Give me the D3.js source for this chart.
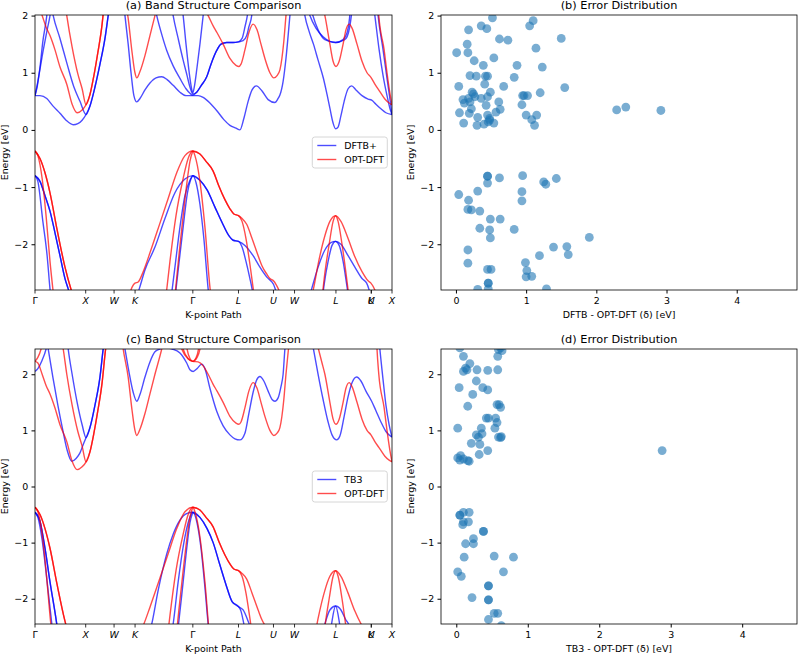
<!DOCTYPE html>
<html>
<head>
<meta charset="utf-8">
<script src="https://cdn.jsdelivr.net/npm/d3@7"></script>
<style>
body { margin: 0; background: #fff; }
svg { font-family: "DejaVu Sans", sans-serif; }
</style>
</head>
<body>
<svg id="fig" width="799" height="655"></svg>
<script>
// k-path (fraction of total path length) and labels
const kTicks = [0, 0.142, 0.2215, 0.2803, 0.4421, 0.570, 0.668, 0.727, 0.843, 0.942, 0.942, 1.0];
const kLabels = ["Γ", "X", "W", "K", "Γ", "L", "U", "W", "L", "K", "U", "X"];
const energyTicks = [-2, -1, 0, 1, 2];
const errTicks = [0, 1, 2, 3, 4];

// OPT-DFT reference bands, [k, E (eV)]; degenerate branches are listed twice
const optValence = [
  [[0,-0.37],[0.014,-0.5],[0.028,-0.75],[0.042,-1.1],[0.062,-1.75],[0.084,-2.4],[0.104,-2.85],[0.126,-3.2]],
  [[0,-0.37],[0.014,-0.5],[0.028,-0.75],[0.042,-1.1],[0.062,-1.75],[0.084,-2.4],[0.104,-2.85],[0.126,-3.2]],
  [[0,-0.37],[0.008,-0.45],[0.020,-0.85],[0.031,-1.5],[0.042,-2.3],[0.053,-2.95]],
  [[0.252,-3.1],[0.261,-2.95],[0.272,-2.75],[0.280,-2.68],[0.289,-2.66],[0.303,-2.48],[0.322,-2.15],[0.350,-1.63],[0.373,-1.2],[0.397,-0.75],[0.420,-0.45],[0.442,-0.37],[0.462,-0.42],[0.479,-0.55],[0.499,-0.72],[0.515,-0.98],[0.532,-1.22],[0.546,-1.38],[0.557,-1.47],[0.570,-1.5],[0.580,-1.55],[0.593,-1.65],[0.608,-1.9],[0.625,-2.2],[0.636,-2.38],[0.649,-2.52],[0.658,-2.6],[0.668,-2.64],[0.675,-2.7],[0.683,-2.8],[0.697,-3.05]],
  [[0.442,-0.37],[0.462,-0.42],[0.479,-0.55],[0.499,-0.72],[0.515,-0.98],[0.532,-1.22],[0.546,-1.38],[0.557,-1.47],[0.570,-1.5],[0.580,-1.6],[0.591,-1.9],[0.602,-2.35],[0.613,-2.85],[0.622,-3.2]],
  [[0.367,-2.9],[0.378,-2.3],[0.395,-1.5],[0.415,-0.85],[0.429,-0.5],[0.442,-0.37],[0.448,-0.45],[0.462,-0.9],[0.476,-1.7],[0.490,-2.75],[0.499,-3.2]],
  [[0.392,-2.9],[0.403,-2.2],[0.415,-1.5],[0.426,-0.9],[0.434,-0.55],[0.442,-0.37]],
  [[0.765,-3.1],[0.780,-2.78],[0.793,-2.35],[0.812,-1.85],[0.826,-1.6],[0.842,-1.5],[0.857,-1.6],[0.877,-1.9],[0.896,-2.22],[0.916,-2.48],[0.933,-2.64],[0.941,-2.68],[0.952,-2.8],[0.966,-3.1]],
  [[0.804,-2.95],[0.812,-2.5],[0.824,-2.0],[0.835,-1.6],[0.842,-1.5],[0.849,-1.6],[0.860,-2.0],[0.871,-2.5],[0.880,-2.95]]
];
const optConduction = [
  [[0,2.23],[0.008,2.2],[0.020,2.0],[0.031,1.8],[0.042,1.65],[0.056,1.4],[0.070,1.1],[0.089,0.8],[0.104,0.45],[0.118,0.3],[0.132,0.35],[0.143,0.44],[0.154,0.62],[0.165,0.95],[0.176,1.35],[0.188,1.85],[0.196,2.35],[0.204,2.8]],
  [[0.064,2.9],[0.079,2.45],[0.089,2.0],[0.104,1.45],[0.120,0.98],[0.132,0.72],[0.143,0.44],[0.154,0.62],[0.165,0.95],[0.176,1.35],[0.188,1.85],[0.196,2.35],[0.204,2.8]],
  [[0,2.23],[0.008,2.3],[0.017,2.45],[0.025,2.7],[0.034,3.0]],
  [[0.238,2.9],[0.247,2.45],[0.261,1.95],[0.272,1.35],[0.280,1.0],[0.285,0.91],[0.294,1.02],[0.308,1.3],[0.322,1.65],[0.336,2.0],[0.355,2.45],[0.364,2.7],[0.378,3.0]],
  [[0.392,2.9],[0.411,2.45],[0.429,2.27],[0.442,2.23],[0.457,2.22],[0.471,2.15],[0.485,2.0],[0.499,1.82],[0.510,1.7],[0.527,1.5],[0.546,1.25],[0.563,1.13],[0.571,1.11],[0.577,1.15],[0.588,1.4],[0.599,1.7],[0.611,1.85],[0.622,1.75],[0.633,1.5],[0.644,1.25],[0.658,1.0],[0.669,0.91],[0.678,0.95],[0.686,1.05],[0.697,1.55],[0.703,2.0],[0.710,2.45],[0.717,2.9]],
  [[0.417,2.9],[0.426,2.45],[0.434,2.28],[0.442,2.23],[0.450,2.28],[0.458,2.45],[0.465,2.9]],
  [[0.401,2.9],[0.415,2.45],[0.429,2.28],[0.442,2.23],[0.454,2.3],[0.462,2.45],[0.471,2.9]],
  [[0.776,2.9],[0.794,2.45],[0.804,2.2],[0.812,2.0],[0.826,1.5],[0.835,1.2],[0.843,1.11],[0.852,1.2],[0.863,1.5],[0.871,1.75],[0.880,1.85],[0.888,1.78],[0.902,1.5],[0.916,1.2],[0.930,1.0],[0.941,0.92],[0.952,0.8],[0.966,0.67],[0.980,0.54],[0.992,0.47],[1.0,0.44]],
  [[0.955,2.9],[0.958,2.45],[0.963,2.0],[0.978,1.4],[0.986,1.0],[0.994,0.65],[1.0,0.44]]
];

// DFTB+ bands
const dftbValence = [
  [[0,-0.8],[0.014,-0.9],[0.028,-1.15],[0.042,-1.42],[0.056,-1.8],[0.070,-2.2],[0.084,-2.6],[0.093,-2.78],[0.104,-3.0]],
  [[0,-0.8],[0.014,-0.9],[0.028,-1.15],[0.042,-1.42],[0.056,-1.8],[0.070,-2.2],[0.084,-2.6],[0.093,-2.78],[0.104,-3.0]],
  [[0,-0.8],[0.008,-0.9],[0.022,-1.6],[0.034,-2.2],[0.042,-2.78],[0.050,-3.2]],
  [[0.275,-3.1],[0.283,-2.95],[0.292,-2.78],[0.308,-2.45],[0.336,-2.05],[0.364,-1.55],[0.392,-1.1],[0.420,-0.86],[0.442,-0.8],[0.462,-0.88],[0.482,-1.05],[0.504,-1.35],[0.524,-1.62],[0.543,-1.85],[0.555,-1.93],[0.570,-1.95],[0.588,-2.02],[0.611,-2.2],[0.630,-2.4],[0.650,-2.58],[0.668,-2.7],[0.675,-2.82],[0.686,-3.0]],
  [[0.442,-0.8],[0.462,-0.88],[0.482,-1.05],[0.504,-1.35],[0.524,-1.62],[0.543,-1.85],[0.555,-1.93],[0.570,-1.95],[0.580,-2.05],[0.591,-2.3],[0.602,-2.6],[0.608,-2.78],[0.616,-3.1]],
  [[0.392,-2.95],[0.402,-2.4],[0.415,-1.7],[0.427,-1.1],[0.436,-0.87],[0.442,-0.8],[0.451,-0.92],[0.462,-1.3],[0.473,-1.9],[0.485,-2.78],[0.493,-3.2]],
  [[0.381,-2.95],[0.392,-2.4],[0.406,-1.7],[0.420,-1.15],[0.434,-0.88],[0.442,-0.8]],
  [[0.765,-3.0],[0.775,-2.78],[0.793,-2.4],[0.812,-2.1],[0.829,-1.97],[0.842,-1.95],[0.857,-2.0],[0.877,-2.2],[0.896,-2.4],[0.916,-2.6],[0.929,-2.68],[0.936,-2.8],[0.944,-3.0]],
  [[0.804,-3.0],[0.810,-2.7],[0.821,-2.3],[0.832,-2.02],[0.842,-1.95],[0.852,-2.02],[0.863,-2.3],[0.873,-2.7],[0.880,-3.0]]
];
const dftbConduction = [
  [[0,0.6],[0.014,0.6],[0.033,0.55],[0.050,0.42],[0.070,0.29],[0.087,0.17],[0.107,0.09],[0.120,0.11],[0.132,0.17],[0.143,0.27],[0.154,0.42],[0.168,0.75],[0.182,1.15],[0.196,1.6],[0.205,2.0],[0.216,2.5],[0.224,2.9]],
  [[0.042,2.3],[0.051,2.0],[0.070,1.6],[0.090,1.15],[0.109,0.75],[0.126,0.5],[0.143,0.27],[0.154,0.42],[0.168,0.75],[0.182,1.15],[0.196,1.6],[0.205,2.0],[0.216,2.5],[0.224,2.9]],
  [[0,0.6],[0.008,0.85],[0.023,1.39],[0.034,1.75],[0.042,2.0],[0.050,2.4],[0.056,2.7]],
  [[0,0.6],[0.006,0.75],[0.014,1.1],[0.022,1.55],[0.033,2.0],[0.039,2.4],[0.045,2.7]],
  [[0.238,2.9],[0.244,2.5],[0.252,2.0],[0.261,1.5],[0.269,1.0],[0.277,0.6],[0.285,0.49],[0.294,0.55],[0.308,0.7],[0.322,0.82],[0.339,0.91],[0.355,0.93],[0.370,0.88],[0.387,0.78],[0.406,0.66],[0.423,0.6],[0.442,0.6],[0.457,0.6],[0.471,0.57],[0.490,0.47],[0.510,0.33],[0.529,0.18],[0.546,0.08],[0.563,0.03],[0.574,0.0],[0.585,0.2],[0.597,0.5],[0.608,0.7],[0.620,0.77],[0.636,0.68],[0.653,0.53],[0.672,0.48],[0.681,0.55],[0.686,0.61],[0.695,0.85],[0.703,1.25],[0.714,2.0],[0.725,2.8]],
  [[0.745,2.5],[0.756,2.0],[0.768,1.72],[0.780,1.5],[0.793,1.22],[0.808,0.9],[0.818,0.62],[0.826,0.38],[0.835,0.12],[0.842,0.02],[0.849,0.05],[0.857,0.25],[0.866,0.5],[0.877,0.72],[0.887,0.77],[0.899,0.7],[0.916,0.6],[0.933,0.54],[0.943,0.52],[0.955,0.45],[0.969,0.37],[0.983,0.3],[1.0,0.27]],
  [[0.322,2.6],[0.341,2.0],[0.356,1.65],[0.369,1.39],[0.387,1.12],[0.406,0.9],[0.423,0.72],[0.434,0.64],[0.442,0.61],[0.453,0.66],[0.465,0.77],[0.481,0.93],[0.493,1.15],[0.509,1.39],[0.521,1.5],[0.537,1.53],[0.555,1.53],[0.570,1.54],[0.583,1.56],[0.593,1.65],[0.599,1.8],[0.607,2.0],[0.613,2.4],[0.619,2.8]],
  [[0.373,2.6],[0.387,2.0],[0.401,1.6],[0.415,1.22],[0.426,0.95],[0.434,0.75],[0.442,0.63],[0.453,0.66],[0.465,0.77],[0.481,0.93],[0.493,1.15],[0.509,1.39],[0.521,1.5],[0.537,1.53],[0.555,1.53],[0.570,1.54],[0.580,1.6],[0.588,1.8],[0.597,2.1],[0.602,2.45],[0.608,2.8]],
  [[0.401,2.8],[0.406,2.4],[0.415,2.0],[0.423,1.5],[0.431,1.05],[0.437,0.78],[0.442,0.65],[0.447,0.78],[0.454,1.1],[0.462,1.5],[0.471,2.0],[0.479,2.4],[0.485,2.8]],
  [[0.756,2.3],[0.770,2.0],[0.787,1.78],[0.807,1.63],[0.826,1.55],[0.842,1.53],[0.857,1.55],[0.871,1.6],[0.878,1.7],[0.884,1.9],[0.888,2.1],[0.894,2.5]],
  [[0.762,2.4],[0.776,2.05],[0.793,1.75],[0.812,1.58],[0.842,1.53],[0.863,1.58],[0.874,1.7],[0.881,1.95],[0.885,2.3]],
  [[0.944,2.4],[0.952,2.0],[0.964,1.4],[0.975,0.95],[0.986,0.6],[0.994,0.38],[1.0,0.27]],
  [[0.955,2.4],[0.961,2.0],[0.975,1.4],[0.986,0.9],[0.994,0.55],[1.0,0.27]]
];

// TB3 bands
const tb3Valence = [
  [[0,-0.46],[0.008,-0.55],[0.020,-0.95],[0.034,-1.7],[0.048,-2.5],[0.056,-3.0]],
  [[0,-0.46],[0.014,-0.62],[0.028,-1.1],[0.042,-1.7],[0.062,-2.5],[0.070,-2.9]],
  [[0,-0.46],[0.014,-0.62],[0.028,-1.1],[0.042,-1.7],[0.062,-2.5],[0.070,-2.9]],
  [[0.317,-2.7],[0.327,-2.45],[0.345,-1.85],[0.369,-1.2],[0.387,-0.85],[0.406,-0.6],[0.426,-0.48],[0.442,-0.46],[0.462,-0.55],[0.482,-0.75],[0.499,-1.0],[0.518,-1.4],[0.535,-1.75],[0.552,-2.05],[0.570,-2.14],[0.583,-2.2],[0.597,-2.4],[0.611,-2.65],[0.619,-2.85]],
  [[0.442,-0.46],[0.462,-0.55],[0.482,-0.75],[0.499,-1.0],[0.518,-1.4],[0.535,-1.75],[0.552,-2.05],[0.570,-2.14],[0.577,-2.22],[0.585,-2.45],[0.594,-2.75]],
  [[0.378,-2.8],[0.387,-2.45],[0.401,-1.7],[0.417,-1.0],[0.431,-0.6],[0.442,-0.46],[0.454,-0.65],[0.465,-1.1],[0.476,-1.8],[0.485,-2.45],[0.493,-2.9]],
  [[0.395,-2.8],[0.403,-2.4],[0.415,-1.7],[0.426,-1.05],[0.434,-0.65],[0.442,-0.46]],
  [[0.798,-2.8],[0.812,-2.45],[0.826,-2.2],[0.842,-2.13],[0.857,-2.2],[0.871,-2.38],[0.878,-2.45],[0.888,-2.8]],
  [[0.824,-2.8],[0.832,-2.4],[0.842,-2.13],[0.852,-2.4],[0.860,-2.8]]
];
const tb3Conduction = [
  [[0.028,2.8],[0.037,2.45],[0.050,1.95],[0.064,1.45],[0.078,1.0],[0.090,0.65],[0.103,0.45],[0.115,0.5],[0.126,0.6],[0.137,0.78],[0.143,0.87],[0.154,1.05],[0.168,1.45],[0.182,1.95],[0.191,2.45],[0.199,2.8]],
  [[0.087,2.8],[0.093,2.45],[0.104,2.0],[0.118,1.5],[0.132,1.1],[0.143,0.87],[0.154,1.05],[0.168,1.45],[0.182,1.95],[0.191,2.45],[0.199,2.8]],
  [[0,2.05],[0.008,2.1],[0.020,2.25],[0.031,2.45],[0.039,2.7]],
  [[0.238,2.9],[0.252,2.45],[0.263,2.05],[0.275,1.68],[0.285,1.52],[0.294,1.64],[0.308,1.95],[0.322,2.22],[0.336,2.4],[0.350,2.45],[0.364,2.47],[0.384,2.45],[0.406,2.38],[0.425,2.2],[0.434,2.08],[0.443,2.05],[0.454,2.1],[0.467,2.18],[0.476,2.1],[0.490,1.75],[0.509,1.34],[0.527,1.08],[0.546,0.92],[0.560,0.85],[0.574,0.83],[0.588,0.95],[0.599,1.3],[0.611,1.68],[0.621,1.9],[0.630,1.96],[0.641,1.88],[0.653,1.7],[0.664,1.55],[0.672,1.52],[0.681,1.58],[0.689,1.78],[0.695,2.0],[0.700,2.45],[0.706,2.8]],
  [[0.770,2.8],[0.780,2.45],[0.793,2.0],[0.807,1.55],[0.821,1.15],[0.832,0.92],[0.845,0.83],[0.854,0.9],[0.866,1.25],[0.877,1.6],[0.888,1.85],[0.901,1.95],[0.913,1.88],[0.927,1.7],[0.943,1.52],[0.955,1.35],[0.969,1.15],[0.983,0.98],[1.0,0.88]],
  [[0.961,2.8],[0.966,2.45],[0.975,1.9],[0.983,1.45],[0.992,1.1],[1.0,0.88]]
];

// error scatter: |delta| (eV) and energy (eV)
const dftbErr = [0.01,0.04,0.05,0.11,0.10,0.12,0.16,0.17,0.18,0.20,0.19,0.18,0.20,0.22,0.23,0.25,0.26,0.27,0.29,0.31,0.30,0.36,0.36,0.39,0.41,0.42,0.40,0.43,0.44,0.45,0.45,0.45,0.46,0.48,0.49,0.48,0.52,0.54,0.54,0.57,0.61,0.62,0.63,0.68,0.74,0.83,0.87,0.94,0.95,0.97,1.00,1.02,1.05,1.08,1.10,1.12,1.14,1.15,1.20,1.23,1.50,1.55,2.29,2.42,2.92,
  0.04,0.18,0.17,0.22,0.31,0.34,0.34,0.45,0.45,0.45,0.48,0.49,0.49,0.62,0.63,0.83,0.94,0.95,0.94,0.99,1.01,1.00,1.08,1.19,1.25,1.28,1.39,1.43,1.58,1.60,1.90,0.17,0.17,0.45,0.50,0.46,0.46,0.46,0.31,1.29];
const dftbErrEnergy = [1.35,0.76,0.30,0.12,0.53,0.47,1.50,1.35,1.75,0.95,0.29,0.55,0.49,0.37,0.66,0.63,1.21,0.58,0.94,0.22,0.08,1.82,0.55,1.13,0.80,0.94,0.10,0.43,1.77,0.94,0.26,0.58,0.14,0.20,0.66,0.17,1.96,1.26,0.12,0.31,0.49,1.59,0.36,0.76,1.57,0.92,1.13,0.44,0.60,0.60,0.26,0.60,1.82,0.18,1.91,0.08,1.43,0.26,0.65,1.10,1.60,0.74,0.35,0.40,0.34,
  -1.13,-1.23,-1.39,-1.40,-1.07,-1.42,-1.72,-0.81,-0.81,-0.93,-1.75,-1.56,-1.89,-0.84,-1.56,-1.74,-1.08,-0.80,-1.24,-2.32,-2.46,-2.57,-2.56,-2.20,-0.91,-0.95,-2.05,-0.85,-2.04,-2.18,-1.88,-2.10,-2.33,-2.44,-2.44,-2.68,-2.68,-2.78,-2.79,-2.78];
const tb3Err = [0.05,0.10,0.19,0.13,0.10,0.15,0.29,0.44,0.58,0.04,0.28,0.23,0.37,0.44,0.58,0.59,0.62,0.64,0.16,0.57,0.60,0.62,0.42,0.45,0.55,0.57,0.54,0.02,0.35,0.28,0.31,0.36,0.59,0.63,0.62,0.21,0.33,0.44,0.32,0.02,0.06,0.05,0.10,0.16,0.18,2.88,
  0.05,0.05,0.10,0.18,0.10,0.09,0.17,0.38,0.38,0.24,0.13,0.24,0.11,0.53,0.80,0.02,0.07,0.66,0.45,0.45,0.22,0.45,0.45,0.53,0.58,0.45,0.63];
const tb3ErrEnergy = [2.47,2.32,2.19,2.11,2.05,2.08,2.08,2.07,2.08,1.76,1.88,1.64,1.76,1.72,2.32,2.44,2.47,2.42,1.43,1.46,1.46,1.41,1.22,1.22,1.22,1.14,1.04,1.04,1.04,0.92,0.88,0.94,0.88,0.89,0.87,0.77,0.75,0.64,0.57,0.51,0.55,0.47,0.49,0.46,0.45,0.64,
  -0.51,-0.51,-0.46,-0.46,-0.63,-0.68,-0.63,-0.80,-0.80,-0.93,-1.02,-1.02,-1.26,-1.24,-1.26,-1.52,-1.60,-1.52,-1.77,-1.77,-1.98,-2.02,-2.02,-2.26,-2.26,-2.37,-2.48];

const svg = d3.select("#fig");
const tickFont = 9.45, titleFont = 11.3;
const modelColor = "#0000ff", refColor = "#ff0000", dotColor = "#1f77b4";

function addTitle(g, w, text) {
  g.append("text").attr("x", w / 2).attr("y", -5.7)
    .attr("text-anchor", "middle").attr("font-size", titleFont).text(text);
}
function addYAxis(g, y, h) {
  g.append("g").call(d3.axisLeft(y).tickValues(energyTicks).tickSize(3.5).tickPadding(3.3).tickFormat(d3.format("d")))
    .call(a => a.select(".domain").remove())
    .attr("font-family", null).attr("font-size", tickFont);
  g.append("text").attr("transform", `translate(-27.5,${h / 2}) rotate(-90)`)
    .attr("text-anchor", "middle").attr("font-size", tickFont).text("Energy [eV]");
}
function addFrame(g, w, h) {
  g.append("rect").attr("width", w).attr("height", h)
    .attr("fill", "none").attr("stroke", "#000").attr("stroke-width", 0.8);
}

function bandPanel(box, yDomain, modelBands, modelName, title, id) {
  const w = box.x1 - box.x0, h = box.y1 - box.y0;
  const g = svg.append("g").attr("transform", `translate(${box.x0},${box.y0})`);
  const x = d3.scaleLinear().domain([0, 1]).range([0, w]);
  const y = d3.scaleLinear().domain(yDomain).range([h, 0]);
  g.append("clipPath").attr("id", id).append("rect").attr("width", w).attr("height", h);
  const line = d3.line().x(d => x(d[0])).y(d => y(d[1])).curve(d3.curveMonotoneX);
  const plot = g.append("g").attr("clip-path", `url(#${id})`);
  plot.selectAll("path.model").data(modelBands).join("path").attr("class", "model")
    .attr("d", line).attr("fill", "none").attr("stroke", modelColor)
    .attr("stroke-opacity", 0.7).attr("stroke-width", 1.4);
  plot.selectAll("path.ref").data(optValence.concat(optConduction)).join("path").attr("class", "ref")
    .attr("d", line).attr("fill", "none").attr("stroke", refColor)
    .attr("stroke-opacity", 0.7).attr("stroke-width", 1.4);

  addFrame(g, w, h);
  addYAxis(g, y, h);

  // k-point ticks
  const xt = g.append("g").attr("transform", `translate(0,${h})`);
  kTicks.forEach((k, i) => {
    xt.append("line").attr("x1", x(k)).attr("x2", x(k)).attr("y1", 0).attr("y2", 3.5).attr("stroke", "#000").attr("stroke-width", 0.8);
    xt.append("text").attr("x", x(k)).attr("y", 13.5).attr("text-anchor", "middle")
      .attr("font-size", tickFont).attr("font-style", kLabels[i] === "Γ" ? "normal" : "italic")
      .text(kLabels[i]);
  });
  g.append("text").attr("x", w / 2).attr("y", h + 28).attr("text-anchor", "middle")
    .attr("font-size", tickFont).text("K-point Path");
  addTitle(g, w, title);

  // legend, center right
  const lw = 75, lh = 31;
  const lg = g.append("g").attr("transform", `translate(${w - 4.7 - lw},${h / 2 - lh / 2})`);
  lg.append("rect").attr("width", lw).attr("height", lh).attr("rx", 2.5)
    .attr("fill", "#fff").attr("fill-opacity", 0.8).attr("stroke", "#ccc").attr("stroke-width", 0.8);
  [[modelName, modelColor], ["OPT-DFT", refColor]].forEach((e, i) => {
    const yy = 8.5 + i * 14;
    lg.append("line").attr("x1", 5).attr("x2", 24).attr("y1", yy).attr("y2", yy)
      .attr("stroke", e[1]).attr("stroke-opacity", 0.7).attr("stroke-width", 1.4);
    lg.append("text").attr("x", 32).attr("y", yy + 3.4).attr("font-size", tickFont).text(e[0]);
  });
}

function errorPanel(box, xDomain, yDomain, errs, energies, xLabel, title, id) {
  const w = box.x1 - box.x0, h = box.y1 - box.y0;
  const g = svg.append("g").attr("transform", `translate(${box.x0},${box.y0})`);
  const x = d3.scaleLinear().domain(xDomain).range([0, w]);
  const y = d3.scaleLinear().domain(yDomain).range([h, 0]);
  g.append("clipPath").attr("id", id).append("rect").attr("width", w).attr("height", h);
  g.append("g").attr("clip-path", `url(#${id})`)
    .selectAll("circle").data(errs).join("circle")
    .attr("cx", d => x(d)).attr("cy", (d, i) => y(energies[i])).attr("r", 4.4)
    .attr("fill", dotColor).attr("fill-opacity", 0.6);
  addFrame(g, w, h);
  addYAxis(g, y, h);
  g.append("g").attr("transform", `translate(0,${h})`)
    .call(d3.axisBottom(x).tickValues(errTicks).tickSize(3.5).tickPadding(3.3).tickFormat(d3.format("d")))
    .call(a => a.select(".domain").remove())
    .attr("font-family", null).attr("font-size", tickFont);
  g.append("text").attr("x", w / 2).attr("y", h + 28).attr("text-anchor", "middle")
    .attr("font-size", tickFont).text(xLabel);
  addTitle(g, w, title);
}

const leftCol = {x0: 35, x1: 392}, rightCol = {x0: 441, x1: 797};
const topRow = {y0: 15, y1: 290}, botRow = {y0: 349, y1: 624};

bandPanel({...leftCol, ...topRow}, [-2.8, 2.01], dftbValence.concat(dftbConduction), "DFTB+", "(a) Band Structure Comparison", "ca");
errorPanel({...rightCol, ...topRow}, [-0.213, 4.859], [-2.8, 2.01], dftbErr, dftbErrEnergy, "DFTB - OPT-DFT (δ) [eV]", "(b) Error Distribution", "cb");
bandPanel({...leftCol, ...botRow}, [-2.45, 2.45], tb3Valence.concat(tb3Conduction), "TB3", "(c) Band Structure Comparison", "cc");
errorPanel({...rightCol, ...botRow}, [-0.214, 4.767], [-2.45, 2.45], tb3Err, tb3ErrEnergy, "TB3 - OPT-DFT (δ) [eV]", "(d) Error Distribution", "cd");
</script>
</body>
</html>
